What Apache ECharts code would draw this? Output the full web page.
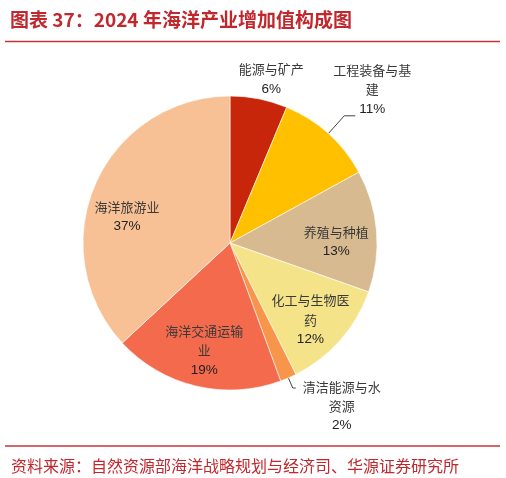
<!DOCTYPE html>
<html><head><meta charset="utf-8">
<script src="https://cdn.jsdelivr.net/npm/echarts@6/dist/echarts.min.js"></script>
<style>html,body{margin:0;padding:0;background:#fff}#c{width:506px;height:478px}</style>
</head><body><div id="c"></div>
<script>
const categories = ['能源与矿产','工程装备与基建','养殖与种植','化工与生物医药','清洁能源与水资源','海洋交通运输业','海洋旅游业'];
const values = [6.3, 10.7, 13.4, 12.2, 1.8, 18.7, 36.9];
const colors = ['#C8260A','#FFC000','#D8BA91','#F5E38A','#F7964B','#F46A4C','#F8C195'];
const titleText = '图表 37：2024 年海洋产业增加值构成图';
const sourceText = '资料来源：自然资源部海洋战略规划与经济司、华源证券研究所';

// label placement styling (kept apart from the data)
const labelCfg = [
  {pos:'outside', line:false, len:12, len2:0, dx:5, dy:-8, va:'middle'},
  {pos:'outside', line:true, len:24, len2:11, dx:12, dy:3, va:'bottom'},
  {pos:'inside', dx:30, dy:5},
  {pos:'inside', dx:23, dy:26},
  {pos:'outside', line:true, len:11, len2:3, dx:41, dy:-11, va:'top'},
  {pos:'inside', dx:-8, dy:33},
  {pos:'inside', dx:-33, dy:4}
];

const data = categories.map((name, i) => {
  const c = labelCfg[i];
  const item = {name, value: values[i], itemStyle:{color: colors[i]},
    label:{position: c.pos}};
  if (c.pos === 'outside') {
    item.labelLine = {show: c.line, length: c.len, length2: c.len2};
  } else {
    item.labelLine = {show:false};
  }
  return item;
});

const chart = echarts.init(document.getElementById('c'), null, {renderer:'canvas'});
chart.setOption({
  animation:false,
  backgroundColor:'#fff',
  title:[
    {text:titleText, left:5, top:5, textStyle:{fontSize:19, fontWeight:'bold', color:'#C0282E', fontFamily:'Noto Sans CJK SC'}},
    {text:sourceText, left:6, top:453, textStyle:{fontSize:16, fontWeight:'normal', color:'#C0282E', fontFamily:'Noto Sans CJK SC'}}
  ],
  graphic:[
    {type:'line', shape:{x1:5,y1:41.5,x2:500,y2:41.5}, style:{stroke:'#C8323C', lineWidth:1.5}},
    {type:'line', shape:{x1:5,y1:446,x2:500,y2:446}, style:{stroke:'#C8323C', lineWidth:1.5}}
  ],
  series:[{
    type:'pie',
    center:[230,243],
    radius:147,
    startAngle:90,
    clockwise:true,
    avoidLabelOverlap:false,
    emphasis:{disabled:true},
    itemStyle:{borderColor:'#fff', borderWidth:0.6},
    label:{
      show:true,
      align:'center',
      formatter: p => {
        const lines = [];
        for (let i = 0; i < p.name.length; i += 6) lines.push('{n|' + p.name.slice(i, i + 6) + '}');
        return lines.join('\n') + '\n{p|' + Math.round(p.percent) + '%}';
      },
      rich:{
        n:{fontSize:13, lineHeight:19.5, fontFamily:'Noto Sans CJK SC', color:'#3a3a3a'},
        p:{fontSize:13.5, lineHeight:19.5, fontFamily:'Liberation Sans, Arial', color:'#222'}
      }
    },
    labelLine:{lineStyle:{color:'#444', width:1}, smooth:false},
    labelLayout: params => {
      const c = labelCfg[params.dataIndex];
      const o = {dx:c.dx, dy:c.dy, align:'center'};
      if (c.va) o.verticalAlign = c.va;
      if (params.labelLinePoints) o.labelLinePoints = params.labelLinePoints;
      return o;
    },
    data
  }]
});
</script></body></html>
